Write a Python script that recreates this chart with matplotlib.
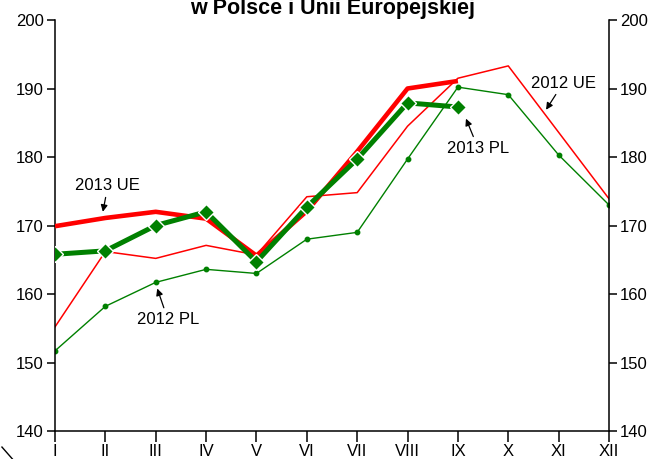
import matplotlib.pyplot as plt
import matplotlib.lines as mlines
import numpy as np

plt.rcParams["font.family"] = ["Liberation Sans", "DejaVu Sans"]

months = ["I", "II", "III", "IV", "V", "VI", "VII", "VIII", "IX", "X", "XI", "XII"]

ue_2012 = [155.2, 166.2, 165.2, 167.1, 165.7, 174.2, 174.8, 184.5, 191.5, 193.3, 183.6, 173.9]
pl_2012 = [151.7, 158.2, 161.7, 163.6, 163.0, 168.0, 169.0, 179.7, 190.2, 189.1, 180.3, 173.0]
ue_2013 = [169.9, 171.1, 172.0, 171.0, 165.6, 172.1, 180.8, 190.0, 191.1]
pl_2013 = [165.8, 166.3, 170.0, 172.0, 164.7, 172.7, 179.7, 187.9, 187.3]

x12 = np.arange(1, 13)
x13 = np.arange(1, len(ue_2013) + 1)

fig = plt.figure(figsize=(6.54, 4.59), dpi=100)
ax = fig.add_axes([0.0841, 0.061, 0.8471, 0.8954])

# 2012 thin lines
ax.plot(x12, ue_2012, color="#ff0000", lw=1.1, zorder=2)
ax.plot(x12, pl_2012, color="#008000", lw=1.0, marker="o", ms=3.2, zorder=2)

# 2013 thick lines
ax.plot(x13, ue_2013, color="#ff0000", lw=3.3, zorder=3, solid_capstyle="butt")
ax.plot(x13, pl_2013, color="#008000", lw=3.6, marker="D", ms=8,
        markeredgecolor="white", markeredgewidth=1.0, zorder=4)

ax.set_xlim(1, 12)
ax.set_ylim(140, 200)
ax.set_xticks(x12)
ax.set_xticklabels(months)
ax.set_yticks(np.arange(140, 201, 10))

ax.spines["top"].set_visible(False)
for s in ["left", "right", "bottom"]:
    ax.spines[s].set_linewidth(1.1)

ax.tick_params(axis="y", which="both", left=True, right=True,
               labelleft=True, labelright=True, direction="out",
               length=6, width=1.1, labelsize=12, pad=2)
ax.tick_params(axis="x", direction="out", length=8, width=1.1,
               labelsize=12, pad=1)

arrow = dict(arrowstyle="-|>", color="black", lw=0.9,
             mutation_scale=10, shrinkA=1, shrinkB=0)
ax.annotate("2013 UE", xy=(1.95, 172.0), xytext=(2.05, 175.8),
            ha="center", va="center", fontsize=12, arrowprops=arrow)
ax.annotate("2012 PL", xy=(3.03, 160.8), xytext=(3.24, 156.3),
            ha="center", va="center", fontsize=12, arrowprops=arrow)
ax.annotate("2013 PL", xy=(9.16, 185.6), xytext=(9.40, 181.3),
            ha="center", va="center", fontsize=12, arrowprops=arrow)
ax.annotate("2012 UE", xy=(10.75, 186.9), xytext=(11.09, 190.8),
            ha="center", va="center", fontsize=12, arrowprops=arrow)

# title is cut off by the top edge in the original
fig.text(0.508, 0.9695, "w Polsce i Unii Europejskiej", ha="center",
         va="baseline", fontsize=15.5, fontweight="bold")

# small stroke at bottom-left corner
fig.add_artist(mlines.Line2D([0.003, 0.019], [0.026, 0.0], color="black", lw=1.0))

fig.savefig("out.png", dpi=100)
